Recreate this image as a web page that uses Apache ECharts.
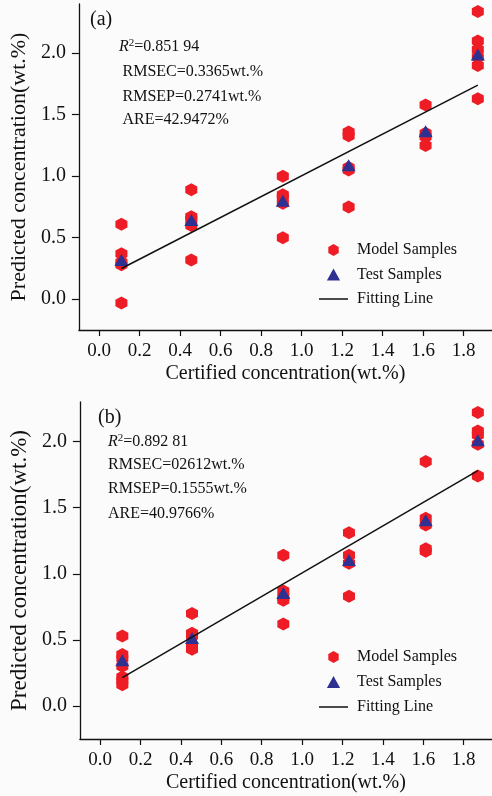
<!DOCTYPE html>
<html>
<head>
<meta charset="utf-8">
<script src="https://cdn.jsdelivr.net/npm/echarts@6/dist/echarts.min.js"></script>
<style>
  html, body { margin: 0; padding: 0; background: #fbfbfb; }
  #main { width: 492px; height: 796px; }
</style>
</head>
<body>
<div id="main"></div>
<script>
// certified concentration of the six reference samples
const certified = [0.11, 0.455, 0.907, 1.232, 1.612, 1.87];
const xTicks = [0, 0.2, 0.4, 0.6, 0.8, 1.0, 1.2, 1.4, 1.6, 1.8];
const yTicks = [0, 0.5, 1.0, 1.5, 2.0];

// panel (a) predicted values, one list per certified sample
const modelA = [
  [0.61, 0.37, 0.30, 0.28, -0.03],
  [0.89, 0.67, 0.65, 0.60, 0.32],
  [1.00, 0.85, 0.83, 0.78, 0.50],
  [1.36, 1.33, 1.07, 1.05, 0.75],
  [1.58, 1.35, 1.32, 1.25],
  [2.34, 2.10, 2.03, 1.97, 1.90, 1.63]
];
const testA = [0.32, 0.645, 0.80, 1.09, 1.365, 1.99];
const fitXA = [0.11, 1.87];
const fitYA = [0.25, 1.74];

// panel (b)
const modelB = [
  [0.53, 0.39, 0.36, 0.30, 0.22, 0.19, 0.16],
  [0.70, 0.55, 0.53, 0.46, 0.43],
  [1.14, 0.87, 0.82, 0.80, 0.62],
  [1.31, 1.14, 1.08, 0.83],
  [1.85, 1.42, 1.37, 1.19, 1.17],
  [2.22, 2.08, 2.05, 1.98, 1.74]
];
const testB = [0.345, 0.515, 0.855, 1.105, 1.405, 2.01];
const fitXB = [0.11, 1.87];
const fitYB = [0.215, 1.78];

const statsA = ['0.851 94', 'RMSEC=0.3365wt.%', 'RMSEP=0.2741wt.%', 'ARE=42.9472%'];
const statsB = ['0.892 81', 'RMSEC=02612wt.%', 'RMSEP=0.1555wt.%', 'ARE=40.9766%'];

const FONT = '"Liberation Serif", "Times New Roman", serif';
const RED = '#ee1c25';
const BLUE = '#2e3192';
const INK = '#111';
const HEX = 'path://M0,-1 L0.866,-0.5 L0.866,0.5 L0,1 L-0.866,0.5 L-0.866,-0.5 Z';
const TRI = 'path://M0,-1 L1.1,1 L-1.1,1 Z';
const BAR = 'path://M0,0 L29,0 L29,1.5 L0,1.5 Z';

const pairs = (xs, ys) => xs.map((x, i) => [x, ys[i]]);
const flat = (groups) => {
  const out = [];
  groups.forEach((g, i) => g.forEach(v => out.push([certified[i], v])));
  return out;
};

const xAxisFor = (gi) => ({
  type: 'value', gridIndex: gi, min: -0.1, max: 1.94,
  name: 'Certified concentration(wt.%)', nameLocation: 'middle', nameGap: 34,
  nameTextStyle: { fontFamily: FONT, fontSize: 20, color: INK },
  axisLine: { show: true, onZero: false, lineStyle: { color: INK, width: 1.3 } },
  axisTick: { show: true, length: 6, customValues: xTicks, lineStyle: { color: INK, width: 1.2 } },
  axisLabel: { customValues: xTicks, margin: 12, fontFamily: FONT, fontSize: 19, color: INK,
    formatter: v => v.toFixed(1) },
  splitLine: { show: false }
});
const yAxisFor = (gi, max, nameSize) => ({
  type: 'value', gridIndex: gi, min: -0.25, max: max,
  name: 'Predicted concentration(wt.%)', nameLocation: 'middle', nameGap: 43,
  nameTextStyle: { fontFamily: FONT, fontSize: nameSize, color: INK },
  axisLine: { show: true, onZero: false, lineStyle: { color: INK, width: 1.3 } },
  axisTick: { show: true, length: 7, customValues: yTicks, lineStyle: { color: INK, width: 1.2 } },
  axisLabel: { customValues: yTicks, margin: 13, fontFamily: FONT, fontSize: 20, color: INK,
    formatter: v => v.toFixed(1) },
  splitLine: { show: false }
});

const seriesFor = (gi, model, test, fx, fy) => [
  { name: 'Model Samples', type: 'scatter', xAxisIndex: gi, yAxisIndex: gi,
    symbol: HEX, symbolSize: [12, 13], itemStyle: { color: RED, opacity: 1 },
    data: flat(model), z: 2 },
  { name: 'Test Samples', type: 'scatter', xAxisIndex: gi, yAxisIndex: gi,
    symbol: 'triangle', symbolSize: [14, 12], itemStyle: { color: BLUE, opacity: 1 },
    data: pairs(certified, test), z: 3 },
  { name: 'Fitting Line', type: 'line', xAxisIndex: gi, yAxisIndex: gi,
    symbol: 'none', lineStyle: { color: INK, width: 1.5 }, itemStyle: { color: INK },
    data: pairs(fx, fy), z: 4 }
];

const legendFor = (top, gap) => ({
  orient: 'vertical', left: 319, top: top, itemGap: gap, padding: 0,
  itemWidth: 29, itemHeight: 12, symbolKeepAspect: true,
  textStyle: { fontFamily: FONT, fontSize: 16, color: INK, lineHeight: 16, padding: [0, 0, 0, 4] },
  data: [
    { name: 'Model Samples', icon: HEX, itemStyle: { color: RED } },
    { name: 'Test Samples', icon: TRI, itemStyle: { color: BLUE } },
    { name: 'Fitting Line', icon: BAR, itemStyle: { color: INK } }
  ]
});

const statTexts = (label, stats, lx, rows) => {
  const els = [];
  els.push({ type: 'text', style: { x: label[1], y: label[2], text: label[0], font: '20px ' + FONT,
    fill: INK, verticalAlign: 'middle' } });
  els.push({ type: 'text', style: { x: lx[0], y: rows[0],
    text: '{i|R}{s|2}{n|=' + stats[0] + '}',
    verticalAlign: 'middle',
    rich: {
      i: { fontFamily: FONT, fontSize: 16, fontStyle: 'italic', fill: INK, lineHeight: 18 },
      s: { fontFamily: FONT, fontSize: 11, fill: INK, verticalAlign: 'top', lineHeight: 18 },
      n: { fontFamily: FONT, fontSize: 16, fill: INK, lineHeight: 18 }
    } } });
  for (let k = 1; k < stats.length; k++) {
    els.push({ type: 'text', style: { x: lx[1], y: rows[k], text: stats[k], font: '16px ' + FONT,
      fill: INK, verticalAlign: 'middle' } });
  }
  return els;
};

const chart = echarts.init(document.getElementById('main'), null, { renderer: 'canvas' });
chart.setOption({
  backgroundColor: '#fbfbfb',
  animation: false,
  grid: [
    { left: 77, top: 4, width: 415, height: 326 },
    { left: 77, top: 402, width: 415, height: 337 }
  ],
  xAxis: [xAxisFor(0), xAxisFor(1)],
  yAxis: [yAxisFor(0, 2.4, 22), yAxisFor(1, 2.3, 23)],
  legend: [legendFor(242, 8.5), legendFor(649, 9)],
  series: [
    ...seriesFor(0, modelA, testA, fitXA, fitYA),
    ...seriesFor(1, modelB, testB, fitXB, fitYB)
  ],
  graphic: [
    ...statTexts(['(a)', 90, 20], statsA, [119, 122.5], [47, 72, 97, 120]),
    ...statTexts(['(b)', 98, 418], statsB, [108, 108], [442, 465, 489, 514])
  ]
});
</script>
</body>
</html>
